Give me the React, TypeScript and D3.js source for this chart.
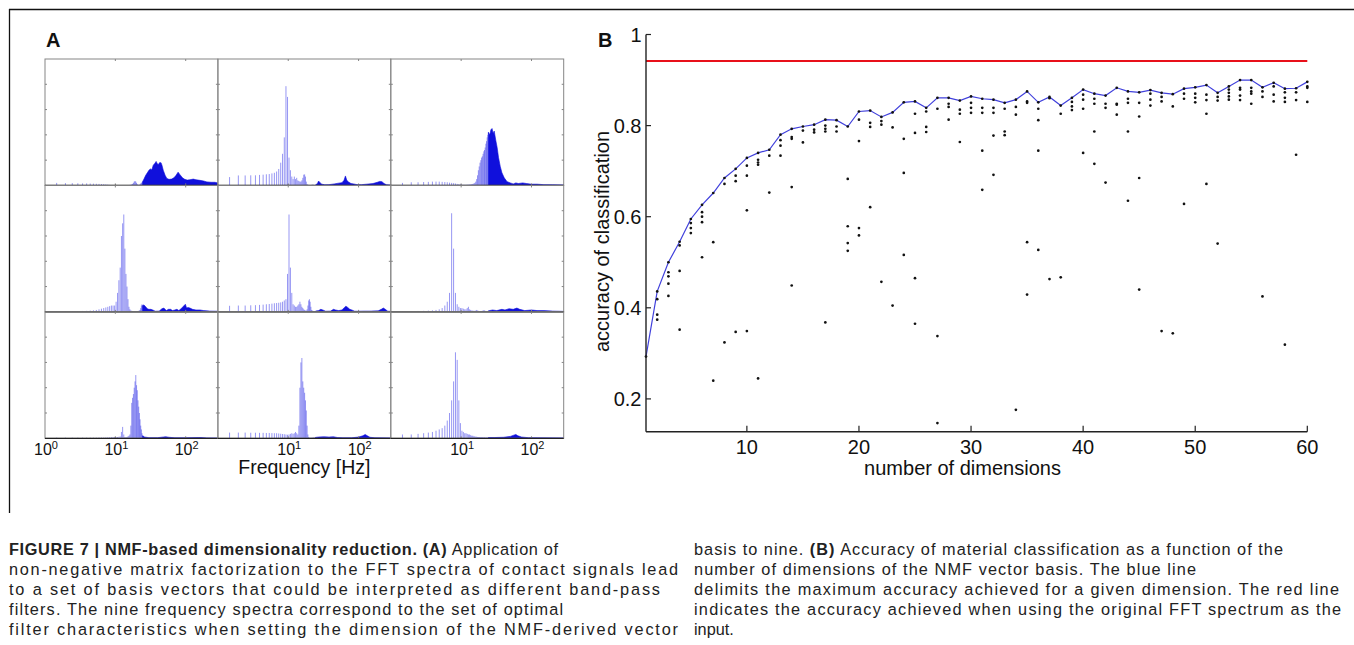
import React, { useEffect } from "react";
import * as d3 from "d3";

// ---------- Panel A: NMF basis spectra (3x3) ----------
// spectral bin width (Hz); stems start at bin 3
const BIN_HZ = 0.48828;
const FIRST_BIN = 3;
const F_MAX = 287;
const freqTickExps = [0, 1, 2];
const ampTicks = [0, 0.2, 0.4, 0.6, 0.8, 1];

// low-frequency bins (k = 3..50), normalised amplitude
const stems11 = [0.02, 0.018, 0.018, 0.017, 0.016, 0.016, 0.015, 0.014, 0.013, 0.012, 0.011, 0.01, 0.008, 0.006,
  0.004, 0.003, 0.003, 0.002, 0.002, 0.002, 0.002, 0.002, 0.002, 0.002, 0.002, 0.003, 0.003, 0.003, 0.003, 0.003, 0.004, 0.005, 0.008, 0.012,
  0.02, 0.03, 0.035, 0.03, 0.02, 0.01, 0.005, 0.004, 0.005, 0.008, 0.015, 0.02, 0.025, 0.03];
const band11: [number, number][] = [[24.4, 0.03], [25.5, 0.05], [27, 0.08], [28.5, 0.1], [30, 0.12], [31.5, 0.13], [33, 0.125], [34.6, 0.16], [36.5, 0.175], [38, 0.19], [39.6, 0.17], [41, 0.165], [42.4, 0.18], [44.6, 0.18], [46, 0.16], [48, 0.12], [51, 0.08], [54, 0.055], [58, 0.048], [63, 0.05], [68, 0.06], [73, 0.08], [78, 0.105], [83, 0.085], [90, 0.06], [97, 0.048], [105, 0.042], [115, 0.045], [128, 0.05], [140, 0.045], [160, 0.04], [180, 0.035], [200, 0.028], [230, 0.025], [260, 0.025], [287, 0.02]];

const stems12 = [0.066, 0.079, 0.079, 0.08, 0.08, 0.083, 0.085, 0.088, 0.09, 0.095, 0.1, 0.11, 0.13, 0.18,
  0.25, 0.38, 0.785, 0.7, 0.22, 0.12, 0.07, 0.05, 0.07, 0.05, 0.06, 0.04, 0.035, 0.03, 0.03, 0.04, 0.06, 0.085, 0.087, 0.07, 0.03, 0.01, 0.005, 0.004,
  0.003, 0.003, 0.003, 0.004, 0.005, 0.006, 0.004, 0.003, 0.003, 0.004];
const band12: [number, number][] = [[24.4, 0.004], [26, 0.015], [27, 0.035], [28.5, 0.02], [30, 0.01], [33, 0.005], [38, 0.006], [45, 0.012], [52, 0.018], [58, 0.022], [62, 0.04], [65, 0.075], [68, 0.04], [72, 0.027], [78, 0.015], [85, 0.012], [95, 0.006], [110, 0.006], [130, 0.01], [160, 0.015], [185, 0.025], [200, 0.032], [215, 0.03], [230, 0.015], [250, 0.005], [287, 0.003]];

const stems13 = [0.02, 0.025, 0.025, 0.027, 0.028, 0.03, 0.03, 0.03, 0.028, 0.027, 0.025, 0.022, 0.02, 0.018, 0.015, 0.012, 0.01, 0.008,
  0.006, 0.005, 0.005, 0.005, 0.006, 0.006, 0.007, 0.008, 0.01, 0.012, 0.015, 0.02, 0.03, 0.05, 0.08,
  0.12, 0.15, 0.18, 0.2, 0.22, 0.23, 0.25, 0.27, 0.28, 0.3, 0.33, 0.35, 0.38, 0.4, 0.42];
const band13: [number, number][] = [[24.4, 0.42], [25.5, 0.4], [26.5, 0.44], [27.5, 0.45], [28.5, 0.41], [29.5, 0.43], [31, 0.36], [32.5, 0.3], [34, 0.22], [36, 0.15], [38, 0.1], [41, 0.06], [45, 0.03], [50, 0.02], [55, 0.012], [60, 0.02], [65, 0.015], [75, 0.02], [85, 0.015], [100, 0.01], [120, 0.01], [150, 0.006], [200, 0.005], [287, 0.004]];

const stems21 = [0.005, 0.005, 0.006, 0.006, 0.007, 0.008, 0.01, 0.012, 0.015, 0.02, 0.025, 0.03, 0.035,
  0.04, 0.045, 0.05, 0.05,
  0.05, 0.08, 0.15, 0.25, 0.35, 0.6, 0.7, 0.77, 0.5, 0.3, 0.2, 0.1, 0.04, 0.02,
  0.01, 0.008, 0.006, 0.005, 0.005, 0.004, 0.004, 0.004, 0.005, 0.006, 0.008, 0.01, 0.015, 0.03, 0.05, 0.06, 0.05];
const band21: [number, number][] = [[24.4, 0.05], [25.5, 0.055], [27, 0.04], [28.5, 0.025], [30, 0.02], [32, 0.02], [34, 0.015], [37, 0.005], [42, 0.006], [46, 0.025], [49, 0.03], [53, 0.01], [57, 0.02], [61, 0.02], [65, 0.01], [70, 0.015], [75, 0.02], [80, 0.01], [88, 0.03], [95, 0.05], [99, 0.06], [103, 0.03], [108, 0.035], [115, 0.03], [125, 0.02], [140, 0.015], [160, 0.015], [180, 0.01], [220, 0.006], [287, 0.005]];

const stems22 = [0.048, 0.05, 0.05, 0.052, 0.053, 0.055, 0.057, 0.06, 0.062, 0.065, 0.068, 0.07, 0.072, 0.075, 0.08, 0.09,
  0.1, 0.3, 0.77, 0.35, 0.15, 0.06,
  0.05, 0.04, 0.04, 0.05, 0.06, 0.08, 0.06, 0.04, 0.03, 0.02, 0.015, 0.01, 0.01, 0.02, 0.05, 0.09, 0.1, 0.08, 0.04, 0.015, 0.01, 0.008, 0.006, 0.005, 0.005, 0.006];
const band22: [number, number][] = [[24.4, 0.006], [27, 0.01], [29, 0.02], [31, 0.015], [34, 0.005], [40, 0.006], [44, 0.02], [47, 0.015], [52, 0.01], [58, 0.015], [63, 0.035], [66, 0.045], [70, 0.035], [75, 0.02], [80, 0.015], [88, 0.005], [100, 0.005], [120, 0.006], [150, 0.006], [190, 0.008], [210, 0.02], [225, 0.03], [240, 0.02], [260, 0.005], [287, 0.004]];

const stems23 = [0.005, 0.006, 0.007, 0.008, 0.01, 0.012, 0.015, 0.02, 0.03, 0.05, 0.08,
  0.15, 0.78, 0.5, 0.15, 0.06,
  0.04, 0.03, 0.03, 0.025, 0.02, 0.02, 0.03, 0.04, 0.02, 0.015, 0.01, 0.01, 0.008, 0.008, 0.01, 0.015, 0.01, 0.008, 0.006, 0.005, 0.005, 0.006, 0.008, 0.01, 0.012, 0.01, 0.008, 0.006, 0.005, 0.005, 0.006, 0.008];
const band23: [number, number][] = [[24.4, 0.008], [28, 0.015], [32, 0.01], [38, 0.02], [42, 0.015], [48, 0.025], [55, 0.02], [62, 0.03], [68, 0.02], [80, 0.01], [100, 0.015], [120, 0.01], [150, 0.01], [200, 0.006], [287, 0.004]];

const stems31 = [0.005, 0.005, 0.005, 0.005, 0.005, 0.005, 0.005, 0.005, 0.005, 0.006, 0.006, 0.006, 0.007, 0.008, 0.008, 0.009, 0.01, 0.01,
  0.01, 0.01, 0.012, 0.015, 0.05, 0.09, 0.03, 0.01,
  0.008, 0.01, 0.015, 0.02, 0.03, 0.1, 0.28, 0.32, 0.35, 0.4, 0.45, 0.5, 0.42, 0.38, 0.3, 0.25, 0.2, 0.15, 0.1, 0.07, 0.04, 0.02];
const band31: [number, number][] = [[24.4, 0.02], [26, 0.01], [30, 0.005], [40, 0.005], [48, 0.01], [52, 0.012], [58, 0.008], [70, 0.004], [100, 0.004], [150, 0.006], [165, 0.006], [200, 0.003], [287, 0.002]];

const stems32 = [0.045, 0.045, 0.045, 0.044, 0.044, 0.043, 0.043, 0.042, 0.042, 0.041, 0.04, 0.04, 0.038, 0.036, 0.034, 0.032, 0.03, 0.028, 0.03, 0.035, 0.04, 0.035,
  0.04, 0.05, 0.04, 0.03, 0.1, 0.4, 0.6, 0.635, 0.45, 0.4, 0.36, 0.3, 0.22, 0.1, 0.03, 0.01,
  0.004, 0.004, 0.004, 0.004, 0.005, 0.005, 0.006, 0.006, 0.006, 0.007];
const band32: [number, number][] = [[24.4, 0.007], [27, 0.01], [32, 0.012], [38, 0.01], [44, 0.012], [50, 0.006], [60, 0.004], [80, 0.004], [100, 0.01], [115, 0.02], [124, 0.03], [133, 0.02], [145, 0.008], [170, 0.004], [287, 0.003]];

const stems33 = [0.03, 0.03, 0.035, 0.04, 0.045, 0.05, 0.06, 0.07, 0.08, 0.1,
  0.14, 0.2, 0.3, 0.45, 0.68, 0.62, 0.3, 0.12, 0.06, 0.05,
  0.04, 0.04, 0.035, 0.03, 0.03, 0.025, 0.02, 0.02, 0.015, 0.015, 0.012, 0.012, 0.01, 0.01, 0.01, 0.01, 0.008, 0.008, 0.008, 0.008, 0.007, 0.007, 0.007, 0.006, 0.006, 0.006, 0.006, 0.006];
const band33: [number, number][] = [[24.4, 0.006], [30, 0.006], [40, 0.008], [50, 0.015], [56, 0.025], [60, 0.03], [64, 0.02], [72, 0.01], [90, 0.005], [120, 0.004], [287, 0.003]];

const spectra = [
  [stems11, band11], [stems12, band12], [stems13, band13],
  [stems21, band21], [stems22, band22], [stems23, band23],
  [stems31, band31], [stems32, band32], [stems33, band33],
] as [number[], [number, number][]][];

// ---------- Panel B: accuracy vs number of dimensions ----------
const dimensions = [1, 2, 3, 4, 5, 6, 7, 8, 9, 10, 11, 12, 13, 14, 15, 16, 17, 18, 19, 20, 21, 22, 23, 24, 25, 26, 27, 28, 29, 30,
  31, 32, 33, 34, 35, 36, 37, 38, 39, 40, 41, 42, 43, 44, 45, 46, 47, 48, 49, 50, 51, 52, 53, 54, 55, 56, 57, 58, 59, 60];
const maxAccuracy = [0.293, 0.436, 0.5, 0.545, 0.595, 0.626, 0.652, 0.685, 0.705, 0.729, 0.74, 0.747, 0.78, 0.793, 0.798, 0.802, 0.813, 0.812, 0.798, 0.831,
  0.833, 0.819, 0.829, 0.851, 0.853, 0.839, 0.861, 0.861, 0.855, 0.864, 0.859, 0.857, 0.85, 0.857, 0.875, 0.851, 0.863, 0.844, 0.861, 0.879,
  0.87, 0.866, 0.883, 0.875, 0.873, 0.878, 0.872, 0.869, 0.881, 0.884, 0.889, 0.872, 0.886, 0.9, 0.9, 0.884, 0.894, 0.881, 0.882, 0.896];
const otherTrials = [
  [], [0.419, 0.385, 0.374], [0.478, 0.469, 0.453, 0.426], [0.537, 0.481, 0.352], [0.586, 0.575, 0.564],
  [0.61, 0.6, 0.588, 0.511], [0.544, 0.24], [0.672, 0.324], [0.69, 0.678, 0.347], [0.712, 0.69, 0.614, 0.349],
  [0.725, 0.719, 0.714, 0.245], [0.734, 0.653], [0.768, 0.756, 0.734], [0.775, 0.771, 0.665, 0.449], [0.789, 0.763],
  [0.791, 0.785], [0.8, 0.793, 0.787, 0.368], [0.798, 0.787], [0.683, 0.579, 0.542, 0.525], [0.813, 0.766, 0.575, 0.559],
  [0.806, 0.797, 0.621], [0.81, 0.802, 0.457], [0.796, 0.405], [0.771, 0.696, 0.516], [0.826, 0.784, 0.465, 0.365],
  [0.831, 0.797, 0.786], [0.837, 0.338, 0.147], [0.848, 0.841, 0.813], [0.835, 0.826, 0.764], [0.85, 0.839, 0.828],
  [0.839, 0.828, 0.745, 0.659], [0.839, 0.828, 0.778, 0.692], [0.837, 0.787, 0.779], [0.841, 0.824, 0.176], [0.853, 0.85, 0.544, 0.429],
  [0.837, 0.812, 0.745, 0.527], [0.86, 0.463], [0.826, 0.467], [0.852, 0.842, 0.834], [0.868, 0.857, 0.837, 0.74],
  [0.859, 0.848, 0.787, 0.716], [0.848, 0.839, 0.675], [0.848, 0.846, 0.824], [0.859, 0.85, 0.787, 0.635], [0.85, 0.82, 0.685, 0.44],
  [0.87, 0.857, 0.844], [0.863, 0.853, 0.349], [0.842, 0.344], [0.87, 0.859, 0.628], [0.87, 0.861, 0.851],
  [0.868, 0.856, 0.826, 0.672], [0.863, 0.855, 0.541], [0.879, 0.872, 0.864, 0.857], [0.883, 0.879, 0.866, 0.856], [0.883, 0.875, 0.87, 0.848],
  [0.875, 0.863, 0.425], [0.886, 0.868, 0.853], [0.873, 0.861, 0.852, 0.319], [0.873, 0.856, 0.736], [0.886, 0.883, 0.852],
];
const fftAccuracy = 0.942;
const accTicks = [0.2, 0.4, 0.6, 0.8, 1];
const accTickLabels = ["0.2", "0.4", "0.6", "0.8", "1"];
const dimTicks = [10, 20, 30, 40, 50, 60];

// ---------- Caption ----------
type Seg = [string, boolean];
const captionLeft: Seg[][] = [
  [["FIGURE 7 | NMF-based dimensionality reduction. (A)", true], [" Application of", false]],
  [["non-negative matrix factorization to the FFT spectra of contact signals lead", false]],
  [["to a set of basis vectors that could be interpreted as different band-pass", false]],
  [["filters. The nine frequency spectra correspond to the set of optimal", false]],
  [["filter characteristics when setting the dimension of the NMF-derived vector", false]],
];
const captionRight: Seg[][] = [
  [["basis to nine. ", false], ["(B)", true], [" Accuracy of material classification as a function of the", false]],
  [["number of dimensions of the NMF vector basis. The blue line", false]],
  [["delimits the maximum accuracy achieved for a given dimension. The red line", false]],
  [["indicates the accuracy achieved when using the original FFT spectrum as the", false]],
  [["input.", false]],
];
const captionLeftWidths = [549, 669, 651, 554, 669];
const captionRightWidths = [589, 502, 645, 647, 0];

const SANS = "'Liberation Sans', Arial, Helvetica, sans-serif";
const NARROW = "'Liberation Sans Narrow', 'Arial Narrow', 'Liberation Sans', Arial, sans-serif";

export default function App() {
  useEffect(() => {
    document.body.style.margin = "0";
  }, []);

  // panel A geometry
  const gx0 = 45, gy0 = 59, cw = 172.9, rh = 126.43;
  const xA = d3.scaleLog().domain([1, F_MAX]).range([0, cw]);
  const yA = d3.scaleLinear().domain([0, 1]).range([rh, 0]);
  const areaA = d3.area<[number, number]>().x(d => xA(d[0])).y0(yA(0)).y1(d => yA(d[1]));

  // panel B geometry
  const xB = d3.scaleLinear().domain([1, 60]).range([646, 1307.3]);
  const yB = d3.scaleLinear().domain([0.128, 1]).range([431.7, 34.5]);
  const lineB = d3.line<number>().x((_, i) => xB(dimensions[i])).y(d => yB(d));

  const captionText = (segs: Seg[], x: number, y: number, w: number, key: string) => (
    <text key={key} x={x} y={y} fontSize={16.3} fontFamily={NARROW} fill="#222"
      {...(w > 0 ? { textLength: w, lengthAdjust: "spacing" } : {})}>
      {segs.map(([t, b], j) => <tspan key={j} fontWeight={b ? "bold" : "normal"}>{t}</tspan>)}
    </text>
  );

  return (
    <svg width={1354} height={645} style={{ display: "block", background: "#fff" }} fontFamily={SANS}>
      {/* outer frame */}
      <line x1={9} y1={9.5} x2={1354} y2={9.5} stroke="#111" strokeWidth={1.3} />
      <line x1={9.5} y1={9} x2={9.5} y2={513} stroke="#111" strokeWidth={1.3} />

      {/* Panel A */}
      <text x={46} y={46.5} fontSize={20} fontWeight="bold" fill="#111">A</text>
      <defs>
        <clipPath id="cellClip">
          <rect x={0} y={0} width={cw} height={rh} />
        </clipPath>
      </defs>
      {spectra.map(([stems, band], idx) => {
        const r = Math.floor(idx / 3), c = idx % 3;
        const tx = gx0 + c * cw, ty = gy0 + r * rh;
        return (
          <g key={idx} transform={`translate(${tx},${ty})`}>
            <g clipPath="url(#cellClip)">
              {stems.map((v, i) => {
                const x = xA((FIRST_BIN + i) * BIN_HZ);
                return <line key={i} x1={x} x2={x} y1={yA(0)} y2={yA(v)} stroke="#2f2fe8" strokeOpacity={0.5} strokeWidth={1} />;
              })}
              <path d={areaA(band) || ""} fill="#1010dc" stroke="#1010dc" strokeWidth={0.6} />
            </g>
            <rect x={0} y={0} width={cw} height={rh} fill="none" stroke="#858585" strokeWidth={1} />
            {ampTicks.slice(1, 5).map(t => (
              <g key={t}>
                <line x1={0} x2={2} y1={yA(t)} y2={yA(t)} stroke="#858585" />
                <line x1={cw - 2} x2={cw} y1={yA(t)} y2={yA(t)} stroke="#858585" />
              </g>
            ))}
            {freqTickExps.slice(1).map(e => (
              <g key={e}>
                <line x1={xA(Math.pow(10, e))} x2={xA(Math.pow(10, e))} y1={0} y2={2} stroke="#858585" />
                <line x1={xA(Math.pow(10, e))} x2={xA(Math.pow(10, e))} y1={rh - 2} y2={rh} stroke="#858585" />
              </g>
            ))}
            <line x1={0} x2={cw} y1={yA(0)} y2={yA(0)} stroke="#222" strokeWidth={1.2} />
          </g>
        );
      })}
      {[0, 1, 2].map(c =>
        freqTickExps.filter(e => c === 0 || e > 0).map(e => (
          <text key={`${c}-${e}`} x={gx0 + c * cw + xA(Math.pow(10, e)) + 1} y={455} fontSize={16} textAnchor="middle" fill="#111">
            10<tspan dy={-6.5} fontSize={11}>{e}</tspan>
          </text>
        ))
      )}
      <text x={gx0 + 1.5 * cw} y={474} fontSize={19.5} textAnchor="middle" fill="#111">Frequency [Hz]</text>

      {/* Panel B */}
      <text x={598} y={46.7} fontSize={20} fontWeight="bold" fill="#111">B</text>
      <line x1={xB(1)} x2={xB(60)} y1={yB(fftAccuracy)} y2={yB(fftAccuracy)} stroke="#e8101a" strokeWidth={2} />
      <path d={lineB(maxAccuracy) || ""} fill="none" stroke="#4040dc" strokeWidth={1.2} />
      {dimensions.map((d, i) => (
        <g key={d}>
          <circle cx={xB(d)} cy={yB(maxAccuracy[i])} r={1.35} fill="#111" />
          {otherTrials[i].map((v, j) => (
            <circle key={j} cx={xB(d)} cy={yB(v)} r={1.35} fill="#111" />
          ))}
        </g>
      ))}
      <line x1={xB(1)} x2={xB(1)} y1={yB(1)} y2={yB(0.128)} stroke="#222" strokeWidth={1.4} />
      <line x1={xB(1)} x2={xB(60)} y1={yB(0.128)} y2={yB(0.128)} stroke="#222" strokeWidth={1.6} />
      {accTicks.map((t, i) => (
        <g key={t}>
          <line x1={xB(1)} x2={xB(1) + 5} y1={yB(t)} y2={yB(t)} stroke="#222" strokeWidth={1.2} />
          <text x={641.5} y={yB(t) + 7} fontSize={20} textAnchor="end" fill="#111">{accTickLabels[i]}</text>
        </g>
      ))}
      {dimTicks.map(t => (
        <g key={t}>
          <line x1={xB(t)} x2={xB(t)} y1={yB(0.128)} y2={yB(0.128) - 6} stroke="#222" strokeWidth={1.2} />
          <text x={xB(t)} y={453.5} fontSize={20} textAnchor="middle" fill="#111">{t}</text>
        </g>
      ))}
      <text x={962.5} y={475} fontSize={20} textAnchor="middle" fill="#111">number of dimensions</text>
      <text transform={`translate(${609},${241.5}) rotate(-90)`} fontSize={20} textAnchor="middle" fill="#111">accuracy of classification</text>

      {/* Caption */}
      {captionLeft.map((segs, i) => captionText(segs, 9, 555 + i * 20, captionLeftWidths[i], `l${i}`))}
      {captionRight.map((segs, i) => captionText(segs, 694, 555 + i * 20, captionRightWidths[i], `r${i}`))}
    </svg>
  );
}
